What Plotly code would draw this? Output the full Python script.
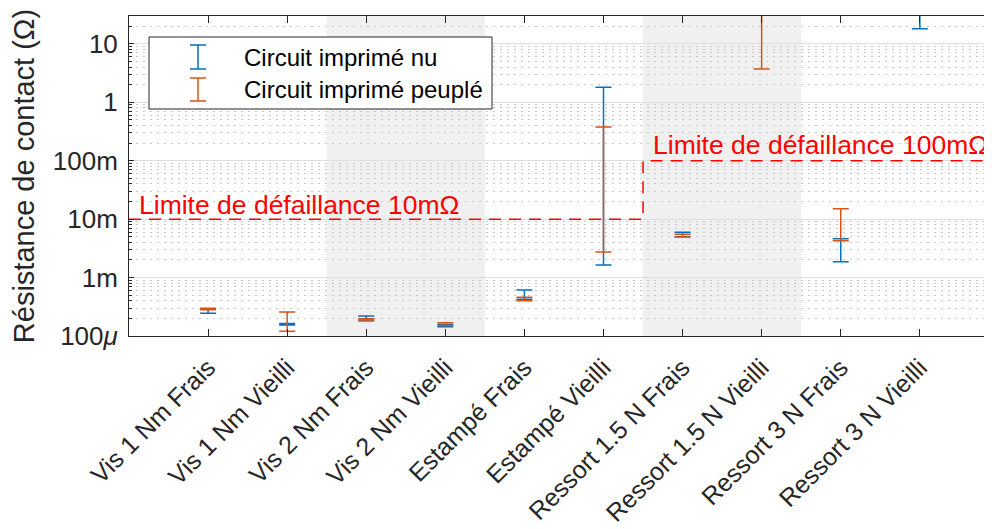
import plotly.graph_objects as go
import math

# ---------------- data ----------------
categories = ["Vis 1 Nm Frais", "Vis 1 Nm Vieilli", "Vis 2 Nm Frais", "Vis 2 Nm Vieilli",
              "Estampé Frais", "Estampé Vieilli", "Ressort 1.5 N Frais", "Ressort 1.5 N Vieilli",
              "Ressort 3 N Frais", "Ressort 3 N Vieilli"]
# contact resistance range (Ohm): low / high
nu_low = [2.45e-4, 1.55e-4, 1.88e-4, 1.44e-4, 4.25e-4, 1.64e-3, 5.0e-3, None, 1.87e-3, 18.1]
nu_high = [2.90e-4, 1.63e-4, 2.20e-4, 1.58e-4, 6.13e-4, 1.81, 5.97e-3, None, 4.63e-3, 100.0]
peuple_low = [2.80e-4, 1.20e-4, 1.81e-4, 1.52e-4, 4.02e-4, 2.74e-3, 4.96e-3, 3.73, 4.28e-3, None]
peuple_high = [2.98e-4, 2.58e-4, 1.98e-4, 1.69e-4, 4.60e-4, 0.379, 5.51e-3, 100.0, 1.514e-2, None]

series_names = ["Circuit imprimé nu", "Circuit imprimé peuplé"]
series_colors = ["#0072BD", "#D95319"]

# failure limits: (first category index, last category index, limit in Ohm)
limits = [(1, 6, 0.01), (7, 10, 0.1)]
limit_labels = ["Limite de défaillance 10mΩ", "Limite de défaillance 100mΩ"]
shaded_groups = [(3, 4), (7, 8)]

ytick_vals = [1e-4, 1e-3, 1e-2, 1e-1, 1, 10]
ytick_text = ["100<i>μ</i>", "1m", "10m", "100m", "1", "10"]

FONT = "Liberation Sans"
TXT = "#262626"

# ---------------- figure ----------------
fig = go.Figure()

xs = list(range(1, len(categories) + 1))


def add_series(low, high, name, color):
    x, mid, up, dn = [], [], [], []
    for xi, lo, hi in zip(xs, low, high):
        if lo is None or hi is None:
            continue
        m = math.sqrt(lo * hi)
        x.append(xi)
        mid.append(m)
        up.append(hi - m)
        dn.append(m - lo)
    fig.add_trace(go.Scatter(
        x=x, y=mid, mode="markers", name=name, showlegend=False,
        marker=dict(size=1, opacity=0, color=color),
        error_y=dict(type="data", symmetric=False, array=up, arrayminus=dn,
                     color=color, thickness=1.5, width=8),
        hoverinfo="skip"))


add_series(nu_low, nu_high, series_names[0], series_colors[0])
add_series(peuple_low, peuple_high, series_names[1], series_colors[1])

# failure limit dashed line
XMAX = 10.9
lx, ly = [], []
for i, (a, b, v) in enumerate(limits):
    x0 = 0 if i == 0 else a - 0.5
    x1 = XMAX if i == len(limits) - 1 else b + 0.5
    lx += [x0, x1]
    ly += [v, v]
fig.add_trace(go.Scatter(x=lx, y=ly, mode="lines", showlegend=False,
                         line=dict(color="#FF0000", width=1.5, dash="12px,8px"),
                         hoverinfo="skip"))

for i, ((a, b, v), lab) in enumerate(zip(limits, limit_labels)):
    x0 = 0.1 if i == 0 else a - 0.4
    fig.add_annotation(x=x0, y=math.log10(v), xref="x", yref="y", text=lab,
                       showarrow=False, xanchor="left", yanchor="bottom",
                       yshift=-3 if i == 0 else -1,
                       font=dict(family=FONT, size=26.5, color="#FF0000"))

shapes = []
for a, b in shaded_groups:
    shapes.append(dict(type="rect", xref="x", yref="paper", x0=a - 0.5, x1=b + 0.5,
                       y0=0, y1=1, fillcolor="#F0F0F0", line=dict(width=0), layer="below"))

# ---------------- legend (manual) ----------------
# plot-area edges in page pixels (page body has an 8px offset)
OFF = 8
PL, PR, PT, PB = 129, 991, 16, 336
W, H = 992 - OFF, 529 - OFF


def px(x):
    return (x - PL) / (PR - PL)


def py(y):
    return (PB - y) / (PB - PT)


shapes.append(dict(type="rect", xref="paper", yref="paper", x0=px(149), x1=px(492),
                   y0=py(109), y1=py(37), fillcolor="white",
                   line=dict(color=TXT, width=1), layer="above"))
icon_rows = [(45, 69, 58), (78, 101, 90)]
for (top, bot, mid), name, color in zip(icon_rows, series_names, series_colors):
    shapes.append(dict(type="line", xref="paper", yref="paper", x0=px(198), x1=px(198),
                       y0=py(bot), y1=py(top), line=dict(color=color, width=1.5), layer="above"))
    for yy in (top, bot):
        shapes.append(dict(type="line", xref="paper", yref="paper", x0=px(190), x1=px(206),
                           y0=py(yy), y1=py(yy), line=dict(color=color, width=1.5), layer="above"))
    fig.add_annotation(x=px(242), y=py(mid), xref="paper", yref="paper", text=name,
                       showarrow=False, xanchor="left", yanchor="middle",
                       font=dict(family=FONT, size=24, color="black"))

minor_vals = [m * 10 ** e for e in range(-4, 2) for m in range(2, 10)]

fig.update_layout(
    width=W, height=H,
    margin=dict(l=PL - OFF, r=W - (PR - OFF), t=PT - OFF, b=H - (PB - OFF), autoexpand=False),
    paper_bgcolor="white", plot_bgcolor="white",
    shapes=shapes,
    font=dict(family=FONT, color=TXT),
    xaxis=dict(range=[0, XMAX], tickmode="array", tickvals=xs, ticktext=categories,
               tickangle=-45, ticks="inside", ticklen=7, tickcolor=TXT, automargin=False,
               ticklabelstandoff=6,
               showline=True, linecolor=TXT, linewidth=1, mirror="ticks",
               showgrid=False, zeroline=False,
               tickfont=dict(family=FONT, size=25, color=TXT)),
    yaxis=dict(type="log", range=[-4, math.log10(30)], tickmode="array",
               tickvals=ytick_vals, ticktext=ytick_text, automargin=False,
               ticks="inside", ticklen=5, tickcolor=TXT, ticklabelstandoff=5,
               showline=True, linecolor=TXT, linewidth=1, mirror="ticks",
               showgrid=True, gridcolor="#DEDEDE", gridwidth=1, zeroline=False,
               tickfont=dict(family=FONT, size=26, color=TXT),
               minor=dict(tickmode="array", tickvals=minor_vals, ticks="inside", ticklen=3,
                          tickcolor=TXT, showgrid=True, gridcolor="#C8C8C8",
                          griddash="2px,5px", gridwidth=1),
               title=dict(text="Résistance de contact (Ω)", standoff=14,
                          font=dict(family=FONT, size=29, color=TXT))),
)

fig.write_html("out.html")
